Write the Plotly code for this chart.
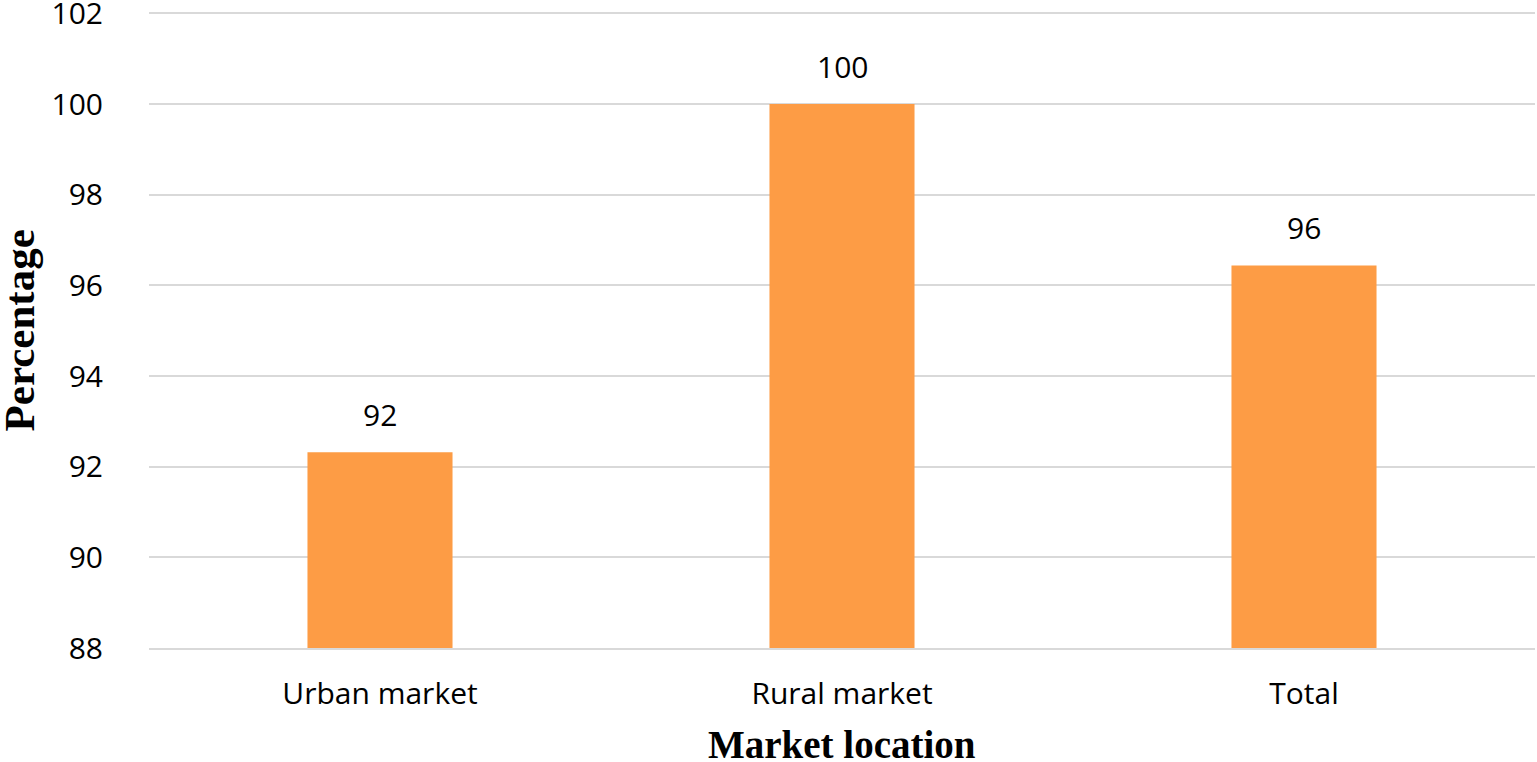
import plotly.graph_objects as go

# Values
categories = ["Urban market", "Rural market", "Total"]
percentages = [92.32, 100.0, 96.44]
value_labels = ["92", "100", "96"]
y_ticks = [88, 90, 92, 94, 96, 98, 100, 102]

BAR_COLOR = "#FD9C45"
GRID_COLOR = "#D9D9D9"
TICK_FONT = dict(family="Open Sans, Noto Sans, sans-serif", size=30, color="black")
TITLE_FONT = dict(family="Liberation Serif, Times New Roman, serif", size=39, color="black")

fig = go.Figure()
fig.add_trace(
    go.Bar(
        x=categories,
        y=percentages,
        marker=dict(color=BAR_COLOR, line=dict(width=0)),
        hoverinfo="x+y",
    )
)

# value labels sit a bit above each bar
for cat, val, lab in zip(categories, percentages, value_labels):
    fig.add_annotation(
        x=cat, y=val, text=lab,
        showarrow=False, yanchor="bottom", yshift=15,
        font=TICK_FONT,
    )

# axis titles placed by hand (automargin off keeps the plot area fixed)
fig.add_annotation(
    text="<b>Market location</b>", xref="paper", yref="paper",
    x=0.5, y=-0.114, xanchor="center", yanchor="top",
    showarrow=False, font=TITLE_FONT,
)
fig.add_annotation(
    text="<b>Percentage</b>", xref="paper", yref="paper",
    x=-0.0935, y=0.5, xanchor="center", yanchor="middle", textangle=-90,
    showarrow=False, font=dict(TITLE_FONT, size=43),
)

fig.update_layout(
    width=1537, height=762,
    plot_bgcolor="white", paper_bgcolor="white",
    bargap=0.686,
    showlegend=False,
    margin=dict(l=149, r=2, t=12, b=114),
)

fig.update_xaxes(
    automargin=False,
    tickfont=TICK_FONT,
    ticks="outside", ticklen=18, tickcolor="rgba(0,0,0,0)",
    showline=True, linecolor=GRID_COLOR, linewidth=2,
    showgrid=False,
)
fig.update_yaxes(
    automargin=False,
    range=[88, 102.03],
    tickvals=y_ticks,
    tickfont=TICK_FONT,
    ticklabeloverflow="allow",
    ticks="outside", ticklen=39, tickcolor="rgba(0,0,0,0)",
    showgrid=True, gridcolor=GRID_COLOR, gridwidth=2,
    zeroline=False, showline=False,
)

# drop the default 8px body margin so the figure fills the window exactly
fig.write_html(
    "out.html",
    config={"displayModeBar": False},
    post_script="document.body.style.margin='0'; document.body.style.overflow='hidden';",
)
